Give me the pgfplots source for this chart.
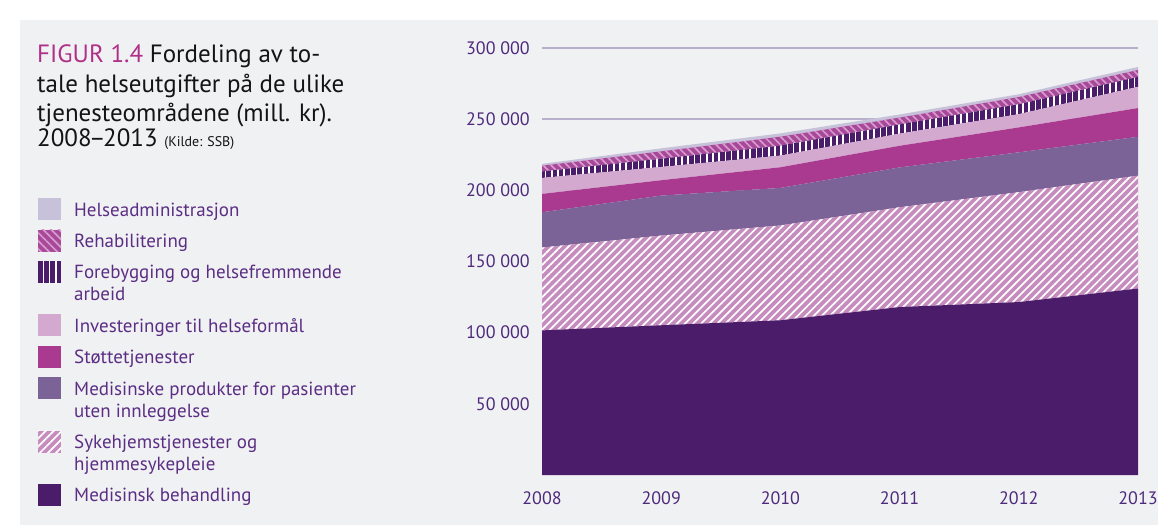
\documentclass[border=0pt]{standalone}
\usepackage{fontspec}
\setmainfont{PT Sans}
\usepackage{pgfplots}
\pgfplotsset{compat=1.18}
\usetikzlibrary{patterns.meta}

\definecolor{bg}{HTML}{F0F1F3}
\definecolor{cB}{HTML}{4A1C6A}
\definecolor{cS}{HTML}{C68CBE}
\definecolor{cM}{HTML}{7B6398}
\definecolor{cSt}{HTML}{AA3A90}
\definecolor{cI}{HTML}{D4A9CF}
\definecolor{cF}{HTML}{4A1C6A}
\definecolor{cR}{HTML}{A8489A}
\definecolor{cRl}{HTML}{D69BCA}
\definecolor{cH}{HTML}{C8C1DA}
\definecolor{tickc}{HTML}{4E2A7C}
\definecolor{legt}{HTML}{5B2E84}
\definecolor{figc}{HTML}{B03088}
\definecolor{gridc}{HTML}{B7AFCC}

\tikzset{
 pS/.style={fill=cS, postaction={draw=none, pattern={Lines[angle=45,distance=5.7pt,line width=1.7pt]}, pattern color=white}},
 pR/.style={fill=cR, postaction={draw=none, pattern={Lines[angle=-45,distance=5.7pt,line width=1.7pt]}, pattern color=cRl}},
 pF/.style={fill=cF, postaction={draw=none, pattern={Lines[angle=90,distance=6.2pt,line width=1.5pt]}, pattern color=white}},
 bb1/.style={draw=none, fill=none},
}

\begin{document}
\begin{tikzpicture}
\useasboundingbox (0,0) rectangle (1158pt,525pt);
\fill[white] (0,0) rectangle (1158pt,525pt);
\fill[bg] (20pt,0pt) rectangle (1158pt,505pt);

\begin{axis}[
  at={(542pt,50pt)}, anchor=south west,
  scale only axis, width=596pt, height=427pt,
  xmin=2008, xmax=2013, ymin=0, ymax=300000,
  stack plots=y,
  axis line style={draw=none},
  tick style={draw=none},
  major tick length=0pt,
  xtick={2008,2009,2010,2011,2012,2013},
  xticklabels={2008,2009,2010,2011,2012,2013},
  ytick={50000,100000,150000,200000,250000,300000},
  yticklabels={50 000,100 000,150 000,200 000,250 000,300 000},
  scaled y ticks=false,
  ymajorgrids, major grid style={draw=gridc, line width=1.4pt},
  tick label style={font=\fontsize{18}{20}\selectfont\color{tickc}},
  xticklabel style={anchor=north, inner sep=0pt, yshift=-16pt},
  yticklabel style={anchor=east, inner sep=0pt, xshift=-12pt},
  /pgf/number format/assume math mode=true,
  legend style={at={(-0.8456,0.6487)}, anchor=north west, draw=none, fill=none,
    inner sep=0pt, row sep=9.4pt, column sep=0pt,
    font=\fontsize{19}{22}\selectfont\color{legt},
    nodes={inner sep=0pt, align=left}},
  legend cell align=left,
]
% legend (top to bottom)
\addlegendimage{legend image code/.code={\path[bb1] (0pt,-11pt) rectangle (36pt,11pt); \fill[cH, draw=none] (0pt,-11pt) rectangle (23pt,11pt);}}
\addlegendentry{\strut Helseadministrasjon}
\addlegendimage{legend image code/.code={\path[bb1] (0pt,-11pt) rectangle (36pt,11pt); \fill[pR, draw=none] (0pt,-11pt) rectangle (23pt,11pt);}}
\addlegendentry{\strut Rehabilitering}
\addlegendimage{legend image code/.code={\path[bb1] (0pt,-22pt) rectangle (36pt,22pt); \fill[pF, draw=none] (0pt,0pt) rectangle (23pt,22pt);}}
\addlegendentry{\strut Forebygging og helsefremmende\\arbeid\strut}
\addlegendimage{legend image code/.code={\path[bb1] (0pt,-11pt) rectangle (36pt,11pt); \fill[cI, draw=none] (0pt,-11pt) rectangle (23pt,11pt);}}
\addlegendentry{\strut Investeringer til helseformål}
\addlegendimage{legend image code/.code={\path[bb1] (0pt,-11pt) rectangle (36pt,11pt); \fill[cSt, draw=none] (0pt,-11pt) rectangle (23pt,11pt);}}
\addlegendentry{\strut Støttetjenester}
\addlegendimage{legend image code/.code={\path[bb1] (0pt,-22pt) rectangle (36pt,22pt); \fill[cM, draw=none] (0pt,0pt) rectangle (23pt,22pt);}}
\addlegendentry{\strut Medisinske produkter for pasienter\\uten innleggelse\strut}
\addlegendimage{legend image code/.code={\path[bb1] (0pt,-22pt) rectangle (36pt,22pt); \fill[pS, draw=none] (0pt,0pt) rectangle (23pt,22pt);}}
\addlegendentry{\strut Sykehjemstjenester og\\hjemmesykepleie\strut}
\addlegendimage{legend image code/.code={\path[bb1] (0pt,-11pt) rectangle (36pt,11pt); \fill[cB, draw=none] (0pt,-11pt) rectangle (23pt,11pt);}}
\addlegendentry{\strut Medisinsk behandling}

% Medisinsk behandling
\addplot[draw=none, fill=cB] coordinates {(2008,101600) (2009,105200) (2010,108700) (2011,118000) (2012,121500) (2013,131000)} \closedcycle;
% Sykehjemstjenester og hjemmesykepleie
\addplot[draw=none, pS] coordinates {(2008,58200) (2009,63000) (2010,66600) (2011,70100) (2012,77200) (2013,79300)} \closedcycle;
% Medisinske produkter
\addplot[draw=none, fill=cM] coordinates {(2008,24800) (2009,28100) (2010,26400) (2011,28000) (2012,28000) (2013,27300)} \closedcycle;
% Stottetjenester
\addplot[draw=none, fill=cSt] coordinates {(2008,12900) (2009,10800) (2010,14500) (2011,15200) (2012,17500) (2013,20200)} \closedcycle;
% Investeringer
\addplot[draw=none, fill=cI] coordinates {(2008,11200) (2009,9300) (2010,8200) (2011,8500) (2012,9300) (2013,14900)} \closedcycle;
% Forebygging
\addplot[draw=none, pF] coordinates {(2008,4600) (2009,5800) (2010,7000) (2011,6500) (2012,7000) (2013,7000)} \closedcycle;
% Rehabilitering
\addplot[draw=none, pR] coordinates {(2008,4000) (2009,5200) (2010,6300) (2011,4800) (2012,5100) (2013,4900)} \closedcycle;
% Helseadministrasjon
\addplot[draw=none, fill=cH] coordinates {(2008,1300) (2009,2100) (2010,2300) (2011,2200) (2012,1900) (2013,2100)} \closedcycle;
\end{axis}

\begin{scope}[every node/.style={anchor=base west, inner sep=0pt, font=\fontsize{25}{30}\selectfont, text=black!92}]
\node at (37pt,462.3pt) {\textcolor{figc}{FIGUR 1.4} Fordeling av to-};
\node at (37pt,432pt) {tale helseutgifter på de ulike};
\node at (37pt,403pt) {tjenesteområdene (mill. kr).};
\node at (37pt,378pt) {2008\kern-2.5pt–\kern-2.5pt2013 {\fontsize{14}{16}\selectfont (Kilde: SSB)}};
\end{scope}
\end{tikzpicture}
\end{document}
